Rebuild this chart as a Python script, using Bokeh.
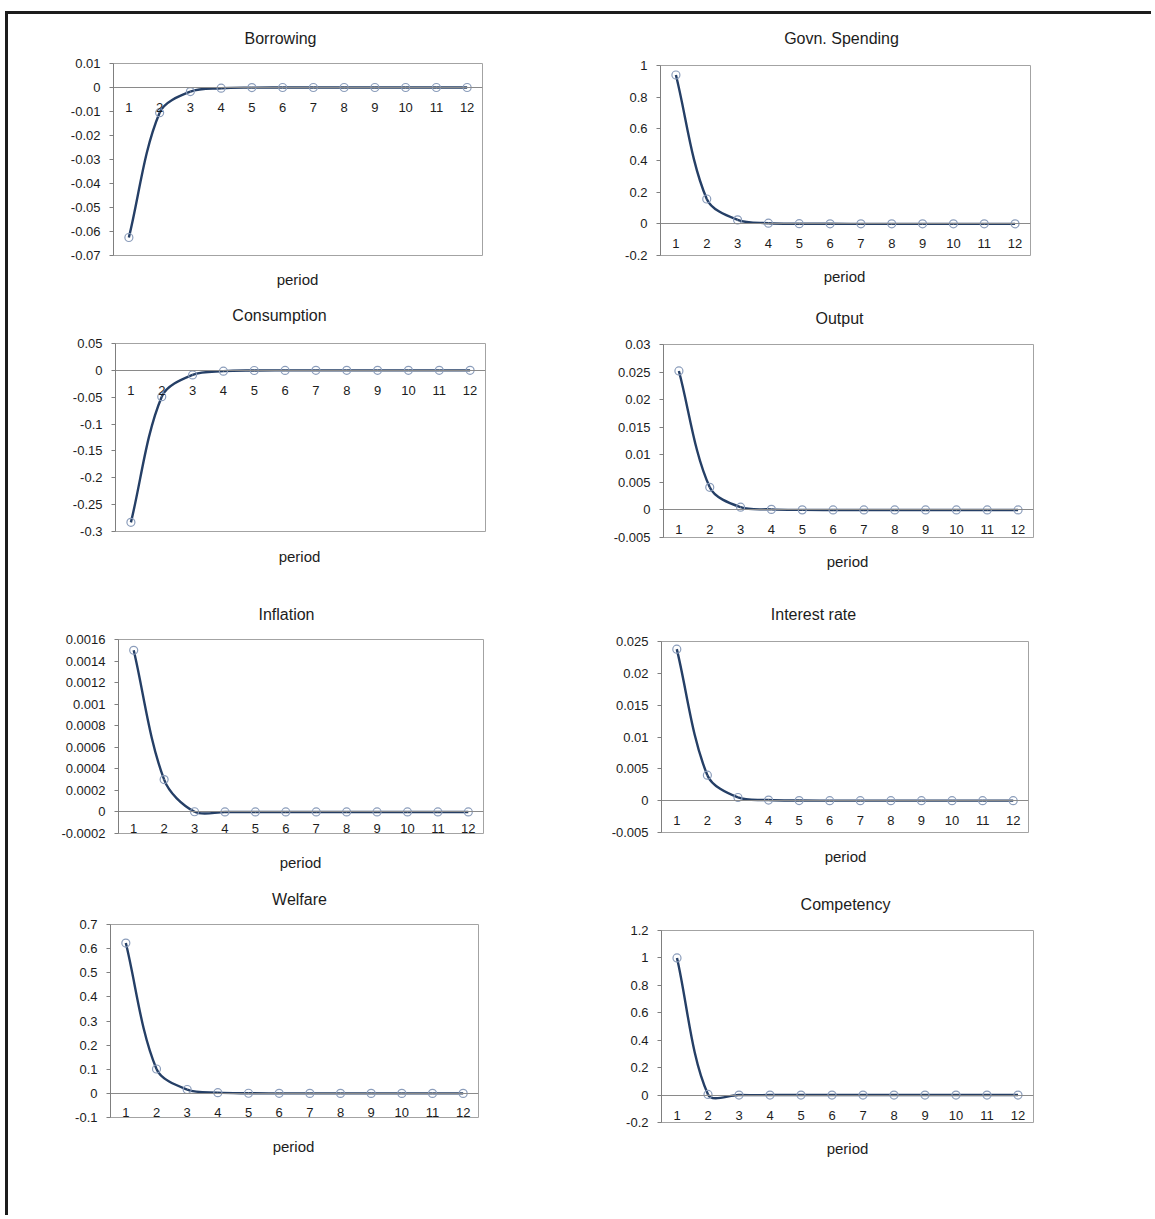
import math
import json
from bokeh.plotting import figure
from bokeh.models import (Range1d, FixedTicker, CustomJSTickFormatter, LinearAxis,
                          LabelSet, ColumnDataSource, Spacer)
from bokeh.core.properties import value
from bokeh.layouts import row, column
from bokeh.embed import file_html
from bokeh.resources import INLINE

# ---------------- data ----------------
periods = [1, 2, 3, 4, 5, 6, 7, 8, 9, 10, 11, 12]
period_labels = ["1", "2", "3", "4", "5", "6", "7", "8", "9", "10", "11", "12"]

borrowing = [-0.0625, -0.0105, -0.0017, -0.0003, -0.00005, 0.0, 0.0, 0.0, 0.0, 0.0, 0.0, 0.0]
borrowing_ticks = [0.01, 0.0, -0.01, -0.02, -0.03, -0.04, -0.05, -0.06, -0.07]

govn_spending = [0.94, 0.157, 0.025, 0.004, 0.0007, 0.0001, 0.0, 0.0, 0.0, 0.0, 0.0, 0.0]
govn_spending_ticks = [1.0, 0.8, 0.6, 0.4, 0.2, 0.0, -0.2]

consumption = [-0.283, -0.049, -0.0085, -0.0015, -0.0003, -0.00005, 0.0, 0.0, 0.0, 0.0, 0.0, 0.0]
consumption_ticks = [0.05, 0.0, -0.05, -0.1, -0.15, -0.2, -0.25, -0.3]

output = [0.0252, 0.0041, 0.0005, 0.0001, 0.00001, 0.0, 0.0, 0.0, 0.0, 0.0, 0.0, 0.0]
output_ticks = [0.03, 0.025, 0.02, 0.015, 0.01, 0.005, 0.0, -0.005]

inflation = [0.0015, 0.0003, 0.000002, 0.0, 0.0, 0.0, 0.0, 0.0, 0.0, 0.0, 0.0, 0.0]
inflation_ticks = [0.0016, 0.0014, 0.0012, 0.001, 0.0008, 0.0006, 0.0004, 0.0002, 0.0, -0.0002]

interest_rate = [0.0238, 0.0040, 0.0005, 0.0001, 0.00002, 0.0, 0.0, 0.0, 0.0, 0.0, 0.0, 0.0]
interest_rate_ticks = [0.025, 0.02, 0.015, 0.01, 0.005, 0.0, -0.005]

welfare = [0.623, 0.101, 0.016, 0.003, 0.0005, 0.0001, 0.0, 0.0, 0.0, 0.0, 0.0, 0.0]
welfare_ticks = [0.7, 0.6, 0.5, 0.4, 0.3, 0.2, 0.1, 0.0, -0.1]

competency = [1.0, 0.005, 0.0, 0.0, 0.0, 0.0, 0.0, 0.0, 0.0, 0.0, 0.0, 0.0]
competency_ticks = [1.2, 1.0, 0.8, 0.6, 0.4, 0.2, 0.0, -0.2]

x_title = "period"

# ---------------- style ----------------
FONT = "Liberation Sans"
TXT = "#1c1c1c"
LINE = "#253f66"
MARK = "#8b9dbb"


def smooth(xs, ys, sx, sy):
    """Bezier control points of an Excel-like smoothed line (computed in pixel space)."""
    P = [(x * sx, y * sy) for x, y in zip(xs, ys)]
    n = len(P)
    out = {k: [] for k in ("x0", "y0", "x1", "y1", "cx0", "cy0", "cx1", "cy1")}

    def d(a, b):
        return math.hypot(a[0] - b[0], a[1] - b[1])

    for i in range(n - 1):
        p0 = P[i - 1] if i > 0 else P[i]
        p1, p2 = P[i], P[i + 1]
        p3 = P[i + 2] if i + 2 < n else P[i + 1]
        d01, d12, d23 = d(p0, p1), d(p1, p2), d(p2, p3)
        f1 = d12 / (d01 + d12) / 3 if d01 + d12 > 0 else 0
        f2 = d12 / (d12 + d23) / 3 if d12 + d23 > 0 else 0
        c1 = (p1[0] + (p2[0] - p0[0]) * f1, p1[1] + (p2[1] - p0[1]) * f1)
        c2 = (p2[0] - (p3[0] - p1[0]) * f2, p2[1] - (p3[1] - p1[1]) * f2)
        out["x0"].append(p1[0] / sx); out["y0"].append(p1[1] / sy)
        out["x1"].append(p2[0] / sx); out["y1"].append(p2[1] / sy)
        out["cx0"].append(c1[0] / sx); out["cy0"].append(c1[1] / sy)
        out["cx1"].append(c2[0] / sx); out["cy1"].append(c2[1] / sy)
    return out


def text_axis(text, size, standoff, center):
    """An axis whose single tick label is a text (chart title / axis title)."""
    ax = LinearAxis(ticker=FixedTicker(ticks=[center]),
                    formatter=CustomJSTickFormatter(code="return %s;" % json.dumps(text)))
    ax.axis_line_color = None
    ax.major_tick_line_color = None
    ax.minor_tick_line_color = None
    ax.major_tick_out = 0
    ax.major_tick_in = 0
    ax.minor_tick_out = 0
    ax.minor_tick_in = 0
    ax.major_label_standoff = standoff
    ax.major_label_text_font = FONT
    ax.major_label_text_font_size = size
    ax.major_label_text_color = TXT
    return ax


def chart(title, ys, ticks, frame, top, bottom_border, left, right, title_pos, period_pos):
    fx0, fy0, fx1, fy1 = frame
    fw, fh = fx1 - fx0, fy1 - fy0
    ymin, ymax = min(ticks), max(ticks)
    xr = Range1d(0.5, 12.5)
    p = figure(width=right - left, height=(fy0 - top) + fh + bottom_border,
               x_range=xr, y_range=Range1d(ymin, ymax),
               min_border_left=fx0 - left, min_border_right=right - fx1,
               min_border_top=fy0 - top, min_border_bottom=bottom_border,
               x_axis_location=None,
               output_backend="svg", toolbar_location=None)
    p.xgrid.visible = False
    p.ygrid.visible = False
    p.outline_line_color = "#a3a3a3"
    p.outline_line_width = 1
    p.background_fill_color = "white"
    p.border_fill_color = "white"

    sx = fw / (xr.end - xr.start)
    sy = fh / (ymax - ymin)

    ya = p.yaxis[0]
    ya.ticker = FixedTicker(ticks=ticks)
    ya.formatter = CustomJSTickFormatter(
        code="const v = Math.round(tick*1e6)/1e6; return (v === 0 ? 0 : v).toString();")
    ya.axis_line_color = "#7f7f7f"
    ya.major_tick_line_color = "#7f7f7f"
    ya.major_tick_out = 4
    ya.major_tick_in = 0
    ya.minor_tick_line_color = None
    ya.major_label_standoff = 9
    ya.major_label_text_font = FONT
    ya.major_label_text_font_size = "13px"
    ya.major_label_text_color = TXT

    tcx, tcy = title_pos
    pcx, pcy = period_pos
    p.add_layout(text_axis(title, "16px", max(0, round(fy0 - tcy - 8)),
                           xr.start + (tcx - fx0) / sx), "above")
    p.add_layout(text_axis(x_title, "15px", max(0, round(pcy - fy1 - 9)),
                           xr.start + (pcx - fx0) / sx), "below")

    # category axis crossing at zero
    xa = LinearAxis(fixed_location=0, ticker=FixedTicker(ticks=periods))
    xa.axis_line_color = "#8a8a8a"
    xa.major_tick_line_color = None
    xa.minor_tick_line_color = None
    xa.major_label_text_color = None
    xa.major_label_text_font_size = "0px"
    p.add_layout(xa, "below")

    src = ColumnDataSource(smooth(periods, ys, sx, sy))
    p.bezier(x0="x0", y0="y0", x1="x1", y1="y1", cx0="cx0", cy0="cy0",
             cx1="cx1", cy1="cy1", source=src, line_color=LINE, line_width=2.4)
    p.scatter(periods, ys, marker="circle", size=8, line_color=MARK,
              fill_color=None, line_width=1.2)

    gap = (0 - ymin) * sy
    lab_src = ColumnDataSource(dict(x=periods, y=[0.0] * len(periods), t=period_labels))
    p.add_layout(LabelSet(x="x", y="y", text="t", source=lab_src,
                          y_offset=-min(20, gap - 5),
                          text_align="center", text_baseline="middle",
                          text_font=value(FONT), text_font_size="13px", text_color=TXT))
    return p


def chart_row(specs, row_top, row_bottom, xs):
    """Two charts side by side; each keeps its own plot-area position."""
    T = min(s[3][1] - row_top for s in specs)
    B = min(row_bottom - s[3][3] for s in specs)
    cells = []
    for (title, ys, ticks, frame, tpos, ppos), (left, right) in zip(specs, xs):
        dy = frame[1] - row_top - T
        p = chart(title, ys, ticks, frame, frame[1] - T, B, left, right, tpos, ppos)
        parts = [Spacer(width=right - left, height=dy)] if dy > 0 else []
        cells.append(column(*parts, p))
    return row(*cells)


L, M, R = 8, 560, 1151
COLS = [(L, M), (M, R)]

row1 = chart_row([
    ("Borrowing", borrowing, borrowing_ticks, (113, 63, 482, 255), (280, 38), (297, 279)),
    ("Govn. Spending", govn_spending, govn_spending_ticks, (660, 65, 1030, 255), (841, 38), (844, 276)),
], 14, 300, COLS)
row2 = chart_row([
    ("Consumption", consumption, consumption_ticks, (115, 343, 485, 531), (279, 315), (299, 556)),
    ("Output", output, output_ticks, (663, 344, 1033, 537), (839, 318), (847, 561)),
], 300, 590, COLS)
row3 = chart_row([
    ("Inflation", inflation, inflation_ticks, (118, 639, 483, 833), (286, 614), (300, 862)),
    ("Interest rate", interest_rate, interest_rate_ticks, (661, 641, 1028, 832), (813, 614), (845, 856)),
], 590, 880, COLS)
row4 = chart_row([
    ("Welfare", welfare, welfare_ticks, (110, 924, 478, 1117), (299, 899), (293, 1146)),
    ("Competency", competency, competency_ticks, (661, 930, 1033, 1122), (845, 904), (847, 1148)),
], 880, 1215, COLS)

layout = column(row1, row2, row3, row4,
                styles={"border-left": "3px solid #1c1c1c", "border-top": "3px solid #1c1c1c",
                        "margin-left": "5px", "margin-top": "11px"})

open("out.html", "w").write(file_html(layout, INLINE))
